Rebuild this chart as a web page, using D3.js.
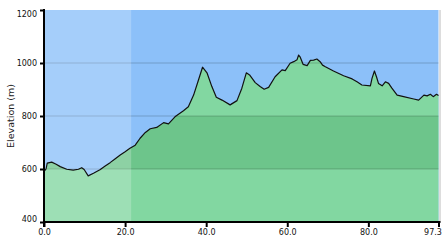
<!DOCTYPE html>
<html>
<head>
<meta charset="utf-8">
<script src="https://cdn.jsdelivr.net/npm/d3@7"></script>
<style>
  body { margin: 0; background: #fff; }
  svg { display: block; }
</style>
</head>
<body>
<div class="profile-chart"></div>
<script>
// elevation profile
const distanceKm = [0, 0.5, 0.8, 1.9, 3, 4, 5.6, 7.2, 8.5, 9.3, 9.9, 10.9, 12.2, 13.8, 15, 16.3, 17.5, 18.8, 20, 21.2,
    22.5, 23.7, 25, 26.2, 27.8, 29.5, 30.7, 32.3, 34.4, 35.6, 36.9, 38.1, 39.1, 40.2, 41.4, 42.5, 43.9, 45.9, 47.6, 48.8,
    49.9, 50.7, 52.1, 53.3, 54.3, 55.4, 57, 58.7, 59.5, 60.7, 61.6, 62.4, 62.8, 63.2, 63.9, 64.9, 65.7, 66.5, 67.3, 68.1,
    68.7, 69.4, 71.4, 73.9, 76, 77.2, 78.4, 80.5, 80.9, 81.5, 82, 82.5, 83.4, 84.2, 85, 85.8, 87.1, 88.7, 91.2, 92.4,
    93.7, 94.5, 95.3, 96, 96.8, 97.3];
const elevationM = [590, 600, 622, 626, 618, 609, 599, 596, 599, 605, 598, 574, 584, 597, 610, 624, 638, 653, 665, 678,
    690, 716, 738, 752, 757, 775, 770, 797, 820, 835, 879, 936, 984, 963, 911, 871, 860, 842, 858, 905,
    963, 955, 926, 911, 901, 908, 948, 974, 971, 999, 1005, 1012, 1030, 1022, 995, 990, 1010, 1011, 1015, 1005,
    992, 986, 970, 952, 940, 929, 917, 914, 942, 970, 948, 923, 914, 929, 923, 905, 879, 873, 864, 860,
    879, 876, 882, 873, 882, 877];
const xTicks = [0, 20, 40, 60, 80, 97.3];
const yTicks = [400, 600, 800, 1000, 1200];
const gridLines = [600, 800, 1000];
const band = [600, 800];
const lightUntilKm = 21.5;

const width = 446;
const height = 240;
const pLeft = 44, pRight = 438.5, pTop = 10, pBottom = 222;

const data = distanceKm.map((d, i) => ({ km: d, ele: elevationM[i] }));

const x = d3.scaleLinear().domain([0, 97.3]).range([pLeft, pRight]);
const y = d3.scaleLinear().domain([400, 1200]).range([pBottom, pTop]);

const svg = d3.select('.profile-chart')
    .append('svg')
    .attr('width', width)
    .attr('height', height);

// sky
svg.append('rect')
    .attr('x', pLeft).attr('y', pTop)
    .attr('width', pRight - pLeft).attr('height', pBottom - pTop)
    .attr('fill', '#8cc0f9');

const area = d3.area()
    .x(d => x(d.km))
    .y0(y(400))
    .y1(d => y(d.ele));

svg.append('clipPath').attr('id', 'ground')
    .append('path').attr('d', area(data));

svg.append('path')
    .attr('d', area(data))
    .attr('fill', '#82d7a1');

// darker band, only inside the ground
svg.append('rect')
    .attr('clip-path', 'url(#ground)')
    .attr('x', pLeft).attr('y', y(band[1]))
    .attr('width', pRight - pLeft).attr('height', y(band[0]) - y(band[1]))
    .attr('fill', '#6dc58b');

svg.selectAll('.grid')
    .data(gridLines)
    .enter()
    .append('line')
    .attr('class', 'grid')
    .attr('x1', pLeft).attr('x2', pRight)
    .attr('y1', d => y(d)).attr('y2', d => y(d))
    .attr('stroke', 'rgba(0,0,0,0.13)')
    .attr('stroke-width', 1.5);

// lighter first part
svg.append('rect')
    .attr('x', pLeft).attr('y', pTop)
    .attr('width', x(lightUntilKm) - pLeft).attr('height', pBottom - pTop)
    .attr('fill', 'rgba(255,255,255,0.22)');

svg.append('path')
    .datum(data)
    .attr('fill', 'none')
    .attr('stroke', '#111')
    .attr('stroke-width', 1.2)
    .attr('stroke-linejoin', 'round')
    .attr('d', d3.line().x(d => x(d.km)).y(d => y(d.ele)));

// right border
svg.append('line')
    .attr('x1', pRight + 1.5).attr('x2', pRight + 1.5)
    .attr('y1', pTop).attr('y2', pBottom)
    .attr('stroke', '#bbb').attr('stroke-width', 1);

const xAxis = svg.append('g')
    .attr('transform', `translate(0,${pBottom})`)
    .call(d3.axisBottom(x).tickValues(xTicks).tickFormat(d3.format('.1f')).tickSize(5).tickSizeOuter(0));

const yAxis = svg.append('g')
    .attr('transform', `translate(${pLeft},0)`)
    .call(d3.axisLeft(y).tickValues(yTicks).tickFormat(d3.format('d')).tickSize(4).tickSizeOuter(0));

[xAxis, yAxis].forEach(g => {
    g.select('.domain').attr('stroke', '#000').attr('stroke-width', 2);
    g.selectAll('.tick line').attr('stroke', '#000').attr('stroke-width', 2);
    g.selectAll('.tick text')
        .attr('fill', '#111')
        .style('font-family', '"DejaVu Sans", Verdana, sans-serif')
        .style('font-size', '8px');
});
yAxis.select('.domain').attr('d', `M0,${pTop - 1}V${pBottom + 5}`);
xAxis.select('.domain').attr('d', `M${pLeft - 1},0H${pRight + 2}`);
xAxis.selectAll('.tick text').attr('y', 7);
yAxis.selectAll('.tick text').attr('x', -7)
    .attr('dy', d => d === 1200 ? '0.85em' : d === 400 ? '-0.1em' : '0.32em');
xAxis.selectAll('.tick text').filter(d => d === 97.3).attr('dx', -6);

svg.append('text')
    .attr('transform', `translate(13.5,116) rotate(-90)`)
    .attr('text-anchor', 'middle')
    .attr('fill', '#222')
    .style('font-family', '"DejaVu Sans", Verdana, sans-serif')
    .style('font-size', '9.5px')
    .text('Elevation (m)');
</script>
</body>
</html>
